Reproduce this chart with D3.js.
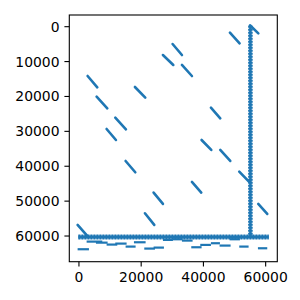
<!DOCTYPE html>
<html>
<head>
<meta charset="utf-8">
<script src="https://cdn.jsdelivr.net/npm/d3@7"></script>
<style>
  body { margin: 0; background: #fff; }
  text { font-family: "DejaVu Sans", sans-serif; font-size: 13.9px; fill: #000; }
</style>
</head>
<body>
<svg width="300" height="300"></svg>
<script>
// diagonal matches: [x0, y0, x1, y1]
const diagonals = [
  [2784, 14134, 5891, 17381],
  [5677, 20055, 9104, 23400],
  [8890, 29320, 11888, 32470],
  [11674, 26070, 15101, 29414],
  [14994, 38490, 18100, 41730],
  [17993, 17285, 21313, 20340],
  [21206, 53480, 24205, 56820],
  [23991, 47560, 26989, 50800],
  [26989, 8117, 30309, 10980],
  [30095, 4966, 33094, 8117],
  [33094, 10980, 36307, 14134],
  [36307, 44500, 39305, 47560],
  [39412, 32470, 42518, 35335],
  [42411, 23206, 45410, 26260],
  [45410, 35335, 48623, 38490],
  [48516, 1719, 51622, 4775],
  [51515, 41540, 54621, 44400],
  [57620, 50800, 60511, 53670],
  [-428, 56820, 2677, 59970],
  [54960, -400, 57640, 1900]
];

// short flat pieces below the band: [x0, x1, y]
const flats = [
  [2463, 7497, 61600],
  [5460, 9210, 61900],
  [8890, 12316, 62450],
  [11674, 15315, 62170],
  [14994, 18207, 63030],
  [17672, 21420, 61790],
  [-428, 3213, 63790],
  [20992, 24420, 63600],
  [23991, 27310, 63320],
  [26989, 30202, 61120],
  [30095, 33308, 60930],
  [33094, 36521, 61310],
  [36093, 39412, 63220],
  [38984, 42411, 62550],
  [42411, 45303, 62070],
  [45196, 48730, 62740],
  [48409, 51729, 60930],
  [51515, 54514, 63030],
  [57513, 60511, 63510]
];

// the long vertical column and the horizontal band
const column = [55100, -300, 60300];   // x, y0, y1
const band = [-200, 61000, 60300];     // x0, x1, y

const xTicks = [0, 20000, 40000, 60000];
const yTicks = [0, 10000, 20000, 30000, 40000, 50000, 60000];

const blue = "#1f77b4";
const svg = d3.select("svg");
const pLeft = 69.3, pRight = 277.3, pTop = 15, pBottom = 261.7;

const x = d3.scaleLinear().domain([-3100, 63740]).range([pLeft, pRight]);
const y = d3.scaleLinear().domain([-3350, 67360]).range([pTop, pBottom]);

const g = svg.append("g");

// horizontal band
g.append("line")
  .attr("x1", x(band[0])).attr("x2", x(band[1]))
  .attr("y1", y(band[2])).attr("y2", y(band[2]))
  .attr("stroke", blue).attr("stroke-width", 5)
  .attr("stroke-dasharray", "2.2,0.8");
g.append("line")
  .attr("x1", x(band[0])).attr("x2", x(band[1]))
  .attr("y1", y(band[2])).attr("y2", y(band[2]))
  .attr("stroke", blue).attr("stroke-width", 3);

// vertical column
g.append("line")
  .attr("x1", x(column[0])).attr("x2", x(column[0]))
  .attr("y1", y(column[1])).attr("y2", y(column[2]))
  .attr("stroke", blue).attr("stroke-width", 4.6)
  .attr("stroke-dasharray", "2.2,0.8");
g.append("line")
  .attr("x1", x(column[0])).attr("x2", x(column[0]))
  .attr("y1", y(column[1])).attr("y2", y(column[2]))
  .attr("stroke", blue).attr("stroke-width", 2.6);

g.selectAll(".flat")
  .data(flats)
  .enter()
  .append("line")
  .attr("class", "flat")
  .attr("x1", d => x(d[0])).attr("x2", d => x(d[1]))
  .attr("y1", d => y(d[2])).attr("y2", d => y(d[2]))
  .attr("stroke", blue).attr("stroke-width", 2.2);

g.selectAll(".diag")
  .data(diagonals)
  .enter()
  .append("line")
  .attr("class", "diag")
  .attr("x1", d => x(d[0])).attr("y1", d => y(d[1]))
  .attr("x2", d => x(d[2])).attr("y2", d => y(d[3]))
  .attr("stroke", blue).attr("stroke-width", 2.6)
  .attr("stroke-linecap", "round");

// frame
svg.append("rect")
  .attr("x", pLeft).attr("y", pTop)
  .attr("width", pRight - pLeft).attr("height", pBottom - pTop)
  .attr("fill", "none").attr("stroke", "#000").attr("stroke-width", 1.1);

// x ticks
const xt = svg.selectAll(".xt").data(xTicks).enter().append("g").attr("class", "xt");
xt.append("line")
  .attr("x1", d => x(d)).attr("x2", d => x(d))
  .attr("y1", pBottom).attr("y2", pBottom + 4.9)
  .attr("stroke", "#000").attr("stroke-width", 1.1);
xt.append("text")
  .attr("x", d => x(d)).attr("y", 282)
  .attr("text-anchor", "middle")
  .text(d => d);

// y ticks
const yt = svg.selectAll(".yt").data(yTicks).enter().append("g").attr("class", "yt");
yt.append("line")
  .attr("x1", pLeft - 4.9).attr("x2", pLeft)
  .attr("y1", d => y(d)).attr("y2", d => y(d))
  .attr("stroke", "#000").attr("stroke-width", 1.1);
yt.append("text")
  .attr("x", pLeft - 9.8).attr("y", d => y(d) + 5)
  .attr("text-anchor", "end")
  .text(d => d);
</script>
</body>
</html>
